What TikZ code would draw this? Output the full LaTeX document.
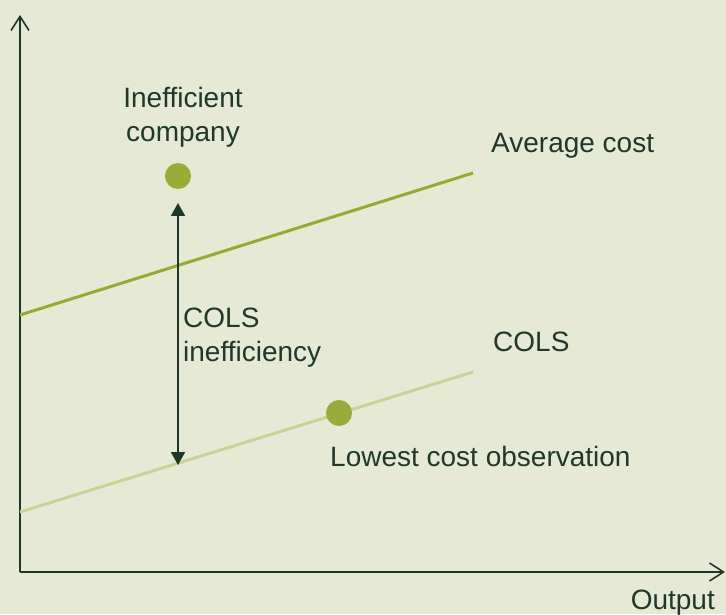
\documentclass[tikz,border=0pt]{standalone}
\usepackage{fontspec}
\setmainfont{Liberation Sans}
\usepackage{tikz}
\usetikzlibrary{arrows.meta}

\definecolor{bgcol}{RGB}{230,234,213}
\definecolor{txtcol}{RGB}{30,56,42}
\definecolor{avgcol}{RGB}{150,170,52}
\definecolor{colscol}{RGB}{200,211,152}
\definecolor{dotcol}{RGB}{155,171,58}

\begin{document}
\begin{tikzpicture}[x=1pt, y=1pt, font=\fontsize{28}{34}\selectfont, text=txtcol,
        axis/.style={line width=1.6pt, draw=txtcol, -{Straight Barb[length=14pt, width=18pt, line width=1.6pt]}},
        obs/.style={circle, fill=dotcol, minimum size=26pt, inner sep=0pt},
        lbl/.style={inner sep=0pt, align=left}]
                \fill[bgcol] (0,0) rectangle (726,614);
                \useasboundingbox (0,0) rectangle (726,614);
                \coordinate (O) at (20,42);
                \coordinate (ytop) at (20,599);
                \coordinate (xend) at (725,42);
                \draw[axis] (O) -- (ytop);
                \draw[axis] (O) -- (xend);
                \coordinate (avgL) at (20,299);
                \coordinate (avgR) at (473,441);
                \coordinate (colsL) at (20,102);
                \coordinate (colsR) at (473,242);
                \draw[line width=3pt, draw=avgcol] (avgL) -- (avgR);
                \draw[line width=3pt, draw=colscol] (colsL) -- (colsR);
                \node[obs] (ineff) at (178,438) {};
                \node[obs] (lowest) at (339,201) {};
                \coordinate (gapTop) at (178,411);
                \coordinate (gapBot) at (178,149);
                \draw[line width=1.8pt, draw=txtcol, {Triangle[length=13pt, width=14pt]}-{Triangle[length=13pt, width=14pt]}] (gapTop) -- (gapBot);
                \node[lbl, align=center, anchor=base] (ineffLbl) at (183,472) {Inefficient\\company};
                \node[lbl, anchor=base west] (avgLbl) at (491,461) {Average cost};
                \node[lbl, anchor=base west] (colsLbl) at (493,262) {COLS};
                \node[lbl, anchor=base west] (gapLbl) at (183,252) {COLS\\inefficiency};
                \node[lbl, anchor=base west] (lowLbl) at (330,148) {Lowest cost observation};
                \node[lbl, anchor=base east] (outLbl) at (715,5) {Output};
              \end{tikzpicture}
\end{document}
